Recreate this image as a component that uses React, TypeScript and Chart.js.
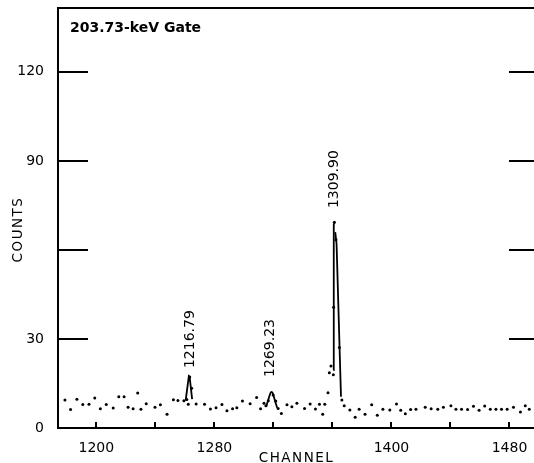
import { useEffect, useRef } from 'react';
import { Chart, registerables } from 'chart.js';

Chart.register(...registerables);

// Measured spectrum: channel positions and counts of each point
const channels = [
  1178.7, 1182.5, 1186.8, 1190.8, 1195.0, 1198.9, 1202.7, 1206.7, 1211.4, 1215.2,
  1218.8, 1221.5, 1224.9, 1228.0, 1230.2, 1233.8, 1239.7, 1243.4, 1247.9, 1252.2,
  1255.3, 1259.3, 1261.3, 1262.3, 1263.3, 1264.6, 1267.6, 1273.3, 1277.3, 1281.1,
  1285.1, 1288.5, 1292.3, 1295.2, 1299.0, 1304.2, 1308.6, 1311.3, 1313.6, 1314.9,
  1316.5, 1319.8, 1321.6, 1323.2, 1325.4, 1329.2, 1332.5, 1335.9, 1341.1, 1344.9,
  1348.5, 1351.2, 1353.4, 1354.8, 1357.0, 1357.9, 1359.0, 1360.6, 1360.8, 1361.3,
  1362.4, 1364.7, 1366.4, 1368.0, 1371.8, 1375.4, 1378.1, 1382.1, 1386.6, 1390.4,
  1394.2, 1398.9, 1403.4, 1406.3, 1409.4, 1413.0, 1416.6, 1422.9, 1426.9, 1431.4,
  1435.2, 1440.3, 1443.7, 1447.5, 1451.6, 1455.6, 1459.4, 1463.2, 1467.0, 1470.8,
  1474.6, 1478.4, 1482.7, 1487.4, 1490.7, 1493.4,
];
const counts = [
  9.4, 6.2, 9.7, 7.9, 8.0, 10.1, 6.5, 7.9, 6.7, 10.5,
  10.5, 7.0, 6.5, 11.8, 6.3, 8.2, 7.0, 7.8, 4.6, 9.5,
  9.3, 9.2, 9.6, 8.0, 17.2, 13.4, 8.1, 8.0, 6.4, 6.8,
  7.9, 5.8, 6.5, 6.8, 9.1, 8.2, 10.3, 6.5, 8.3, 7.5,
  9.2, 11.1, 9.1, 6.6, 4.9, 7.8, 7.2, 8.3, 6.6, 8.1,
  6.4, 8.0, 4.6, 8.0, 11.9, 18.6, 20.9, 17.9, 40.7, 69.3,
  63.4, 27.1, 9.4, 7.5, 6.1, 3.6, 6.3, 4.6, 7.8, 4.3,
  6.3, 6.1, 8.1, 6.0, 4.8, 6.2, 6.3, 7.0, 6.5, 6.3,
  7.0, 7.5, 6.3, 6.3, 6.2, 7.3, 6.0, 7.4, 6.3, 6.3,
  6.3, 6.3, 7.0, 5.4, 7.5, 6.3,
];

// Fitted peak shapes
const fit1Channels = [1260.5, 1262.7, 1263.2, 1264.9];
const fit1Counts = [9.2, 17.5, 17.3, 9.7];
const fit2Channels = [1315.1, 1316.6, 1318.0, 1318.7, 1319.5, 1321.0, 1322.5];
const fit2Counts = [7.2, 9.6, 11.8, 12.2, 11.8, 9.3, 6.8];
const fit3LeftChannels = [1360.6, 1360.9, 1361.5];
const fit3LeftCounts = [19.5, 68.5, 69.3];
const fit3RightChannels = [1361.9, 1362.8, 1365.8];
const fit3RightCounts = [66.0, 62.0, 10.5];

// Peak energies (keV) with the point where each label starts
const peakLabels = ['1216.79', '1269.23', '1309.90'];
const peakLabelChannels = [1263.8, 1317.8, 1361.6];
const peakLabelCounts = [20.2, 17.2, 74.1];

// Axis ticks
const xTickValues = [1200, 1240, 1280, 1320, 1360, 1400, 1440, 1480];
const xTickLabels = ['1200', '', '1280', '', '', '1400', '', '1480'];
const yTickValues = [0, 30, 60, 90, 120];
const yTickLabels = ['0', '30', '', '90', '120'];

const titleText = '203.73-keV Gate';
const xTitle = 'CHANNEL';
const yTitle = 'COUNTS';

const FONT = "'DejaVu Sans', sans-serif";

const toPoints = (xs: number[], ys: number[]) => xs.map((x, i) => ({ x, y: ys[i] }));

const framePlugin = {
  id: 'spectrumFrame',
  afterDraw(chart: any) {
    const { ctx, chartArea: a, scales } = chart;
    const xs = scales.x;
    const ys = scales.y;
    ctx.save();
    ctx.strokeStyle = '#000';
    ctx.lineWidth = 2;
    ctx.strokeRect(a.left, a.top, a.right - a.left, a.bottom - a.top);

    ctx.beginPath();
    yTickValues.forEach((v) => {
      if (v === 0) return;
      const py = Math.round(ys.getPixelForValue(v));
      ctx.moveTo(a.left, py);
      ctx.lineTo(a.left + 30, py);
      ctx.moveTo(a.right - 30, py);
      ctx.lineTo(a.right, py);
    });
    xTickValues.forEach((v) => {
      const px = Math.round(xs.getPixelForValue(v));
      ctx.moveTo(px, a.bottom);
      ctx.lineTo(px, a.bottom - 6);
    });
    ctx.stroke();

    ctx.fillStyle = '#000';
    // Title
    ctx.font = `bold 14px ${FONT}`;
    ctx.textAlign = 'left';
    ctx.textBaseline = 'alphabetic';
    ctx.fillText(titleText, 70, 31.5);

    // Axis titles
    ctx.font = `13.5px ${FONT}`;
    (ctx as any).letterSpacing = '1.5px';
    ctx.textAlign = 'center';
    ctx.fillText(xTitle, (a.left + a.right) / 2 - 2, 462);
    ctx.save();
    ctx.translate(22, 229.5);
    ctx.rotate(-Math.PI / 2);
    ctx.textBaseline = 'alphabetic';
    ctx.fillText(yTitle, 0, 0);
    ctx.restore();
    (ctx as any).letterSpacing = '0px';

    // Peak energy labels
    ctx.font = `14px ${FONT}`;
    ctx.textAlign = 'left';
    ctx.textBaseline = 'middle';
    peakLabels.forEach((t, i) => {
      const px = xs.getPixelForValue(peakLabelChannels[i]);
      const py = ys.getPixelForValue(peakLabelCounts[i]);
      ctx.save();
      ctx.translate(px, py);
      ctx.rotate(-Math.PI / 2);
      ctx.fillText(t, 0, 0);
      ctx.restore();
    });
    ctx.restore();
  },
};

export default function App() {
  const canvasRef = useRef<HTMLCanvasElement | null>(null);

  useEffect(() => {
    const canvas = canvasRef.current;
    if (!canvas) return;
    const lineStyle = {
      showLine: true,
      pointRadius: 0,
      borderColor: '#000',
      borderWidth: 1.8,
      tension: 0,
    };
    const chart = new Chart(canvas, {
      type: 'scatter',
      data: {
        datasets: [
          { ...lineStyle, data: toPoints(fit1Channels, fit1Counts) },
          { ...lineStyle, data: toPoints(fit2Channels, fit2Counts), tension: 0.3 },
          { ...lineStyle, data: toPoints(fit3LeftChannels, fit3LeftCounts) },
          { ...lineStyle, data: toPoints(fit3RightChannels, fit3RightCounts) },
          {
            data: toPoints(channels, counts),
            showLine: false,
            pointRadius: 1.5,
            pointBackgroundColor: '#000',
            pointBorderWidth: 0,
          },
        ],
      },
      options: {
        animation: false,
        responsive: false,
        devicePixelRatio: 1,
        layout: { padding: { top: 8, left: 0, right: 0, bottom: 0 } },
        plugins: { legend: { display: false }, tooltip: { enabled: false } },
        scales: {
          x: {
            type: 'linear',
            min: 1174,
            max: 1500,
            grid: { display: false },
            border: { display: false },
            afterBuildTicks: (s: any) => {
              s.ticks = xTickValues.map((value) => ({ value }));
            },
            afterFit: (s: any) => {
              s.height = 35;
              s.paddingLeft = 0;
              s.paddingRight = 0;
            },
            ticks: {
              autoSkip: false,
              maxRotation: 0,
              padding: 4,
              color: '#000',
              font: { family: FONT, size: 14 },
              callback: (v: any) => xTickLabels[xTickValues.indexOf(Number(v))] ?? '',
            },
          },
          y: {
            type: 'linear',
            min: 0,
            max: 141.5,
            grid: { display: false },
            border: { display: false },
            afterBuildTicks: (s: any) => {
              s.ticks = yTickValues.map((value) => ({ value }));
            },
            afterFit: (s: any) => {
              s.width = 58;
              s.paddingTop = 0;
              s.paddingBottom = 0;
            },
            ticks: {
              autoSkip: false,
              padding: 6,
              color: '#000',
              font: { family: FONT, size: 14 },
              callback: (v: any) => yTickLabels[yTickValues.indexOf(Number(v))] ?? '',
            },
          },
        },
      },
      plugins: [framePlugin],
    } as any);
    return () => chart.destroy();
  }, []);

  return (
    <div
      style={{
        position: 'fixed',
        left: 0,
        top: 0,
        width: 534,
        height: 463,
        overflow: 'hidden',
        background: '#fff',
      }}
    >
      <canvas ref={canvasRef} width={543} height={463} style={{ display: 'block' }} />
    </div>
  );
}
